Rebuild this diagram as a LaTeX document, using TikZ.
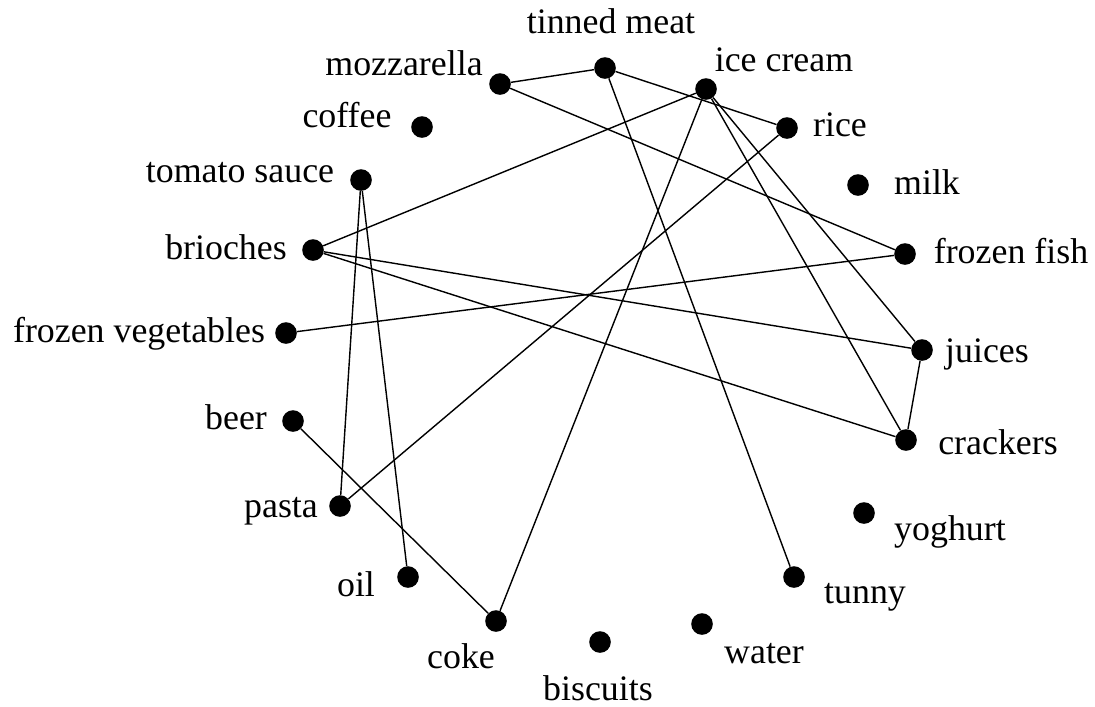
\documentclass[tikz,border=0pt]{standalone}
\usepackage{fontspec}
\setmainfont{Liberation Serif}
\usetikzlibrary{positioning}
\tikzset{
  item/.style={circle, fill=black, inner sep=0pt, minimum size=0.54cm},
  itemname/.style={anchor=base, inner sep=0pt, font=\fontsize{25.5}{30}\selectfont},
  link/.style={line width=1pt}
}

\begin{document}
\begin{tikzpicture}[x=0.025cm, y=-0.025cm]
	\useasboundingbox (0,0) rectangle (1095,706);

	% items
	\node[item] (tinned)   at (605,68)  {};
	\node[item] (mozz)     at (500,84)  {};
	\node[item] (icecream) at (706,89)  {};
	\node[item] (coffee)   at (422,127) {};
	\node[item] (rice)     at (787,128) {};
	\node[item] (milk)     at (858,185) {};
	\node[item] (tomato)   at (361,180) {};
	\node[item] (brioches) at (313,250) {};
	\node[item] (ffish)    at (905,254) {};
	\node[item] (fveg)     at (286,333) {};
	\node[item] (juices)   at (922,350) {};
	\node[item] (beer)     at (293,421) {};
	\node[item] (crackers) at (906,440) {};
	\node[item] (pasta)    at (340,506) {};
	\node[item] (yoghurt)  at (864,513) {};
	\node[item] (oil)      at (408,577) {};
	\node[item] (tunny)    at (794,577) {};
	\node[item] (coke)     at (496,621) {};
	\node[item] (water)    at (702,624) {};
	\node[item] (biscuits) at (600,642) {};

	% names
	\node[itemname] (tinnedname)   at (611,33)  {tinned meat};
	\node[itemname] (mozzname)     at (404,75)  {mozzarella};
	\node[itemname] (icecreamname) at (784,71)  {ice cream};
	\node[itemname] (coffeename)   at (347,127) {coffee};
	\node[itemname] (ricename)     at (840,136) {rice};
	\node[itemname] (milkname)     at (927,194) {milk};
	\node[itemname] (tomatoname)   at (240,182) {tomato sauce};
	\node[itemname] (briochesname) at (226,259) {brioches};
	\node[itemname] (ffishname)    at (1011,263) {frozen fish};
	\node[itemname] (fvegname)     at (139,342) {frozen vegetables};
	\node[itemname] (juicesname)   at (987,362) {juices};
	\node[itemname] (beername)     at (236,429) {beer};
	\node[itemname] (crackersname) at (998,454) {crackers};
	\node[itemname] (pastaname)    at (281,517) {pasta};
	\node[itemname] (yoghurtname)  at (950,540) {yoghurt};
	\node[itemname] (oilname)      at (356,596) {oil};
	\node[itemname] (tunnyname)    at (865,603) {tunny};
	\node[itemname] (cokename)     at (461,668) {coke};
	\node[itemname] (biscuitsname) at (598,700) {biscuits};
	\node[itemname] (watername)    at (764,663) {water};

	% links
	\draw[link] (mozz) -- (tinned);
	\draw[link] (tinned) -- (rice);
	\draw[link] (tinned) -- (tunny);
	\draw[link] (mozz) -- (ffish);
	\draw[link] (icecream) -- (brioches);
	\draw[link] (icecream) -- (coke);
	\draw[link] (icecream) -- (juices);
	\draw[link] (icecream) -- (crackers);
	\draw[link] (rice) -- (pasta);
	\draw[link] (tomato) -- (pasta);
	\draw[link] (tomato) -- (oil);
	\draw[link] (brioches) -- (juices);
	\draw[link] (brioches) -- (crackers);
	\draw[link] (fveg) -- (ffish);
	\draw[link] (beer) -- (coke);
	\draw[link] (juices) -- (crackers);
\end{tikzpicture}
\end{document}
